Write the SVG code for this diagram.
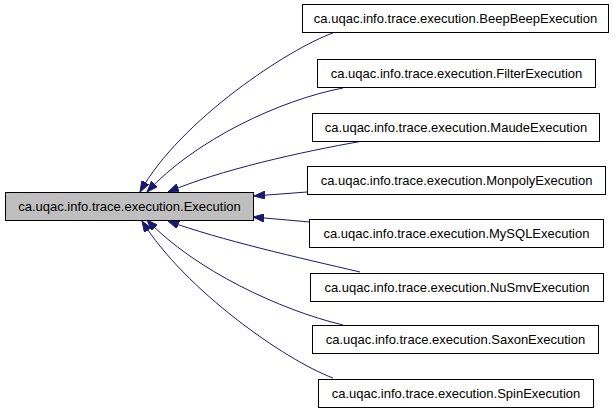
<svg xmlns="http://www.w3.org/2000/svg" width="616" height="413" viewBox="0 0 616 413">
<style>
.n rect{fill:#ffffff;stroke:#000000;stroke-width:1}
.n.main rect{fill:#bfbfbf}
.n text{font-family:"Liberation Sans",Arial,sans-serif;font-size:13px;fill:#000000;text-anchor:middle}
.e path{fill:none;stroke:#191970;stroke-width:1;marker-end:url(#ah)}
</style>
<defs>
<marker id="ah" viewBox="0 0 11 8" refX="11" refY="4" markerWidth="11" markerHeight="8" markerUnits="userSpaceOnUse" orient="auto">
<path d="M0,0 L11,4 L0,8 z" fill="#191970" stroke="#191970" stroke-width="1"/>
</marker>
</defs>
<rect width="616" height="413" fill="#ffffff"/>
<g id="edges" class="e">
<path d="M333,33 C290,48 180,120 140,192"/>
<path d="M343,88 C280,100 195,140 147,192"/>
<path d="M363,141 C300,152 220,170 168,192"/>
<path d="M307,192 L254,196"/>
<path d="M310,222 L253,217"/>
<path d="M360,272 C300,258 220,240 168,221"/>
<path d="M343,325 C280,310 195,270 147,220"/>
<path d="M333,378 C285,360 185,290 142,221"/>
</g>
<g id="node-execution" class="n main"><rect x="5.5" y="192.5" width="248" height="28"/><text x="129.5" y="211">ca.uqac.info.trace.execution.Execution</text></g>
<g id="node-beepbeep" class="n"><rect x="302.5" y="4.5" width="306" height="28"/><text x="455.5" y="23">ca.uqac.info.trace.execution.BeepBeepExecution</text></g>
<g id="node-filter" class="n"><rect x="317.5" y="59.5" width="278" height="28"/><text x="456.5" y="78">ca.uqac.info.trace.execution.FilterExecution</text></g>
<g id="node-maude" class="n"><rect x="312.5" y="113.5" width="287" height="28"/><text x="456" y="132">ca.uqac.info.trace.execution.MaudeExecution</text></g>
<g id="node-monpoly" class="n"><rect x="307.5" y="166.5" width="298" height="28"/><text x="456.5" y="185">ca.uqac.info.trace.execution.MonpolyExecution</text></g>
<g id="node-mysql" class="n"><rect x="309.5" y="219.5" width="294" height="28"/><text x="456.5" y="238">ca.uqac.info.trace.execution.MySQLExecution</text></g>
<g id="node-nusmv" class="n"><rect x="310.5" y="273.5" width="293" height="28"/><text x="457" y="292">ca.uqac.info.trace.execution.NuSmvExecution</text></g>
<g id="node-saxon" class="n"><rect x="312.5" y="325.5" width="286" height="28"/><text x="455.5" y="344">ca.uqac.info.trace.execution.SaxonExecution</text></g>
<g id="node-spin" class="n"><rect x="318.5" y="379.5" width="275" height="28"/><text x="456" y="398">ca.uqac.info.trace.execution.SpinExecution</text></g>
</svg>
